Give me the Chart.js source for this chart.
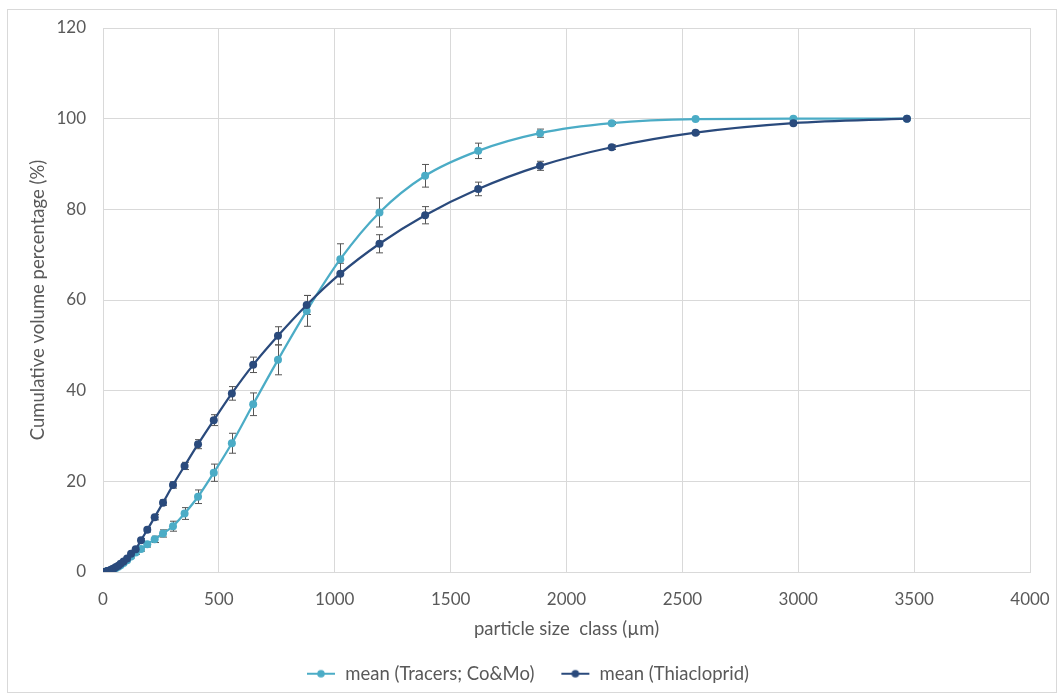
<!DOCTYPE html>
<html>
<head>
<meta charset="utf-8">
<script src="https://cdn.jsdelivr.net/npm/chart.js@4.4.1/dist/chart.umd.min.js"></script>
<style>
  html, body { margin: 0; padding: 0; background: #fff; }
  #wrap { position: relative; width: 1057px; height: 693px; }
</style>
</head>
<body>
<div id="wrap"><canvas id="psdChart" width="1057" height="693"></canvas></div>
<script>
// DATA

// particle size classes (µm)
const sizeClasses = [5, 6, 7, 8, 9, 10, 12, 14, 17, 19, 23, 26, 31, 36, 41, 48, 56, 66, 76, 89,
    104, 121, 141, 164, 191, 223, 259, 302, 352, 410, 478, 556, 648, 755, 879,
    1024, 1193, 1390, 1619, 1886, 2195, 2557, 2979, 3469];

// cumulative volume (%) - mean (Tracers; Co&Mo)
const tracersMean = [0, 0.005, 0.01, 0.015, 0.02, 0.03, 0.04, 0.06, 0.08, 0.11, 0.16, 0.22, 0.3, 0.4, 0.52, 0.7, 0.9, 1.15, 1.5, 2.0,
    2.6, 3.4, 4.3, 5.1, 6.1, 7.2, 8.5, 10.1, 12.9, 16.6, 21.9, 28.4, 37.0, 46.8, 57.6,
    69.0, 79.3, 87.4, 92.9, 96.8, 99.0, 99.9, 100, 100];
const tracersErr = [0, 0, 0, 0, 0, 0, 0, 0, 0, 0, 0, 0, 0, 0, 0, 0, 0, 0, 0.1, 0.1,
    0.2, 0.3, 0.4, 0.5, 0.6, 0.7, 0.8, 1.1, 1.3, 1.5, 1.9, 2.2, 2.5, 3.3, 3.4,
    3.4, 3.2, 2.5, 1.7, 0.9, 0.3, 0.1, 0.1, 0];

// cumulative volume (%) - mean (Thiacloprid)
const thiaMean = [0, 0.005, 0.01, 0.015, 0.02, 0.03, 0.05, 0.07, 0.1, 0.14, 0.2, 0.28, 0.38, 0.5, 0.65, 0.85, 1.1, 1.4, 1.8, 2.3,
    3.0, 4.0, 5.0, 7.0, 9.3, 12.1, 15.3, 19.2, 23.4, 28.2, 33.5, 39.4, 45.7, 52.1, 58.9,
    65.8, 72.4, 78.7, 84.5, 89.6, 93.7, 96.9, 99.0, 100];
const thiaErr = [0, 0, 0, 0, 0, 0, 0, 0, 0, 0, 0, 0, 0, 0, 0, 0, 0, 0, 0.1, 0.1,
    0.2, 0.3, 0.3, 0.4, 0.5, 0.6, 0.6, 0.7, 0.8, 1.0, 1.2, 1.5, 1.7, 2.0, 2.1,
    2.3, 2.0, 1.9, 1.5, 1.0, 0.5, 0.3, 0.2, 0];

const seriesNames = ["mean (Tracers; Co&Mo)", "mean (Thiacloprid)"];
const xTicks = [0, 500, 1000, 1500, 2000, 2500, 3000, 3500, 4000];
const yTicks = [0, 20, 40, 60, 80, 100, 120];

// STYLE

const lightBlue = "#4BACC6";
const darkBlue = "#2A4A7C";
const textGray = "#595959";
const gridGray = "#d9d9d9";
const fontFamily = "Lato, 'Open Sans', sans-serif";

function toPoints(xs, ys) {
    return xs.map((x, i) => ({ x: x, y: ys[i] }));
}

// legend marker: short line with a dot in the middle
function legendMarker(color) {
    const c = document.createElement("canvas");
    c.width = 30;
    c.height = 10;
    const g = c.getContext("2d");
    g.strokeStyle = color;
    g.lineWidth = 2;
    g.beginPath();
    g.moveTo(1, 5);
    g.lineTo(29, 5);
    g.stroke();
    g.fillStyle = color;
    g.beginPath();
    g.arc(15, 5, 3.8, 0, Math.PI * 2);
    g.fill();
    return c;
}

// error bars drawn through the chart's own scales
const errorBarPlugin = {
    id: "errorBars",
    beforeDatasetsDraw(chart) {
        const ctx = chart.ctx;
        const xs = chart.scales.x;
        const ys = chart.scales.y;
        ctx.save();
        ctx.strokeStyle = "#555555";
        ctx.lineWidth = 1;
        chart.data.datasets.forEach(ds => {
            if (!ds.errors) return;
            ds.data.forEach((p, i) => {
                const e = ds.errors[i];
                if (!e) return;
                const px = Math.round(xs.getPixelForValue(p.x)) + 0.5;
                const top = ys.getPixelForValue(p.y + e);
                const bot = ys.getPixelForValue(p.y - e);
                if (bot - top < 2) return;
                ctx.beginPath();
                ctx.moveTo(px, top);
                ctx.lineTo(px, bot);
                ctx.moveTo(px - 3.5, top);
                ctx.lineTo(px + 3.5, top);
                ctx.moveTo(px - 3.5, bot);
                ctx.lineTo(px + 3.5, bot);
                ctx.stroke();
            });
        });
        ctx.restore();
    }
};

// outer frame of the chart
const framePlugin = {
    id: "frame",
    beforeDraw(chart) {
        const ctx = chart.ctx;
        ctx.save();
        ctx.fillStyle = "#ffffff";
        ctx.fillRect(0, 0, chart.width, chart.height);
        ctx.strokeStyle = gridGray;
        ctx.lineWidth = 1;
        ctx.strokeRect(7.5, 9.5, chart.width - 8, chart.height - 10);
        ctx.restore();
    }
};

// CHART

const markers = [legendMarker(lightBlue), legendMarker(darkBlue)];

new Chart(document.getElementById("psdChart"), {
    type: "line",
    data: {
        datasets: [
            {
                label: seriesNames[0],
                data: toPoints(sizeClasses, tracersMean),
                errors: tracersErr,
                borderColor: lightBlue,
                backgroundColor: lightBlue,
                borderWidth: 2.25,
                pointRadius: 4,
                pointHoverRadius: 4,
                pointBorderWidth: 0,
                cubicInterpolationMode: "monotone",
                order: 1
            },
            {
                label: seriesNames[1],
                data: toPoints(sizeClasses, thiaMean),
                errors: thiaErr,
                borderColor: darkBlue,
                backgroundColor: darkBlue,
                borderWidth: 2.25,
                pointRadius: 4,
                pointHoverRadius: 4,
                pointBorderWidth: 0,
                cubicInterpolationMode: "monotone",
                order: 0
            }
        ]
    },
    options: {
        responsive: false,
        animation: false,
        layout: {
            padding: { left: 25, right: 27, top: 28, bottom: 0 }
        },
        scales: {
            x: {
                type: "linear",
                min: 0,
                max: 4000,
                afterBuildTicks: s => { s.ticks = xTicks.map(v => ({ value: v })); },
                afterFit: s => { s.height = 66.5; },
                grid: { color: gridGray, drawTicks: true, tickLength: 17.5, tickColor: "rgba(0,0,0,0)" },
                border: { color: gridGray },
                ticks: {
                    padding: 0,
                    color: textGray,
                    font: { family: fontFamily, size: 17 },
                    callback: v => String(v)
                },
                title: {
                    display: true,
                    text: "particle size  class (µm)",
                    color: textGray,
                    font: { family: fontFamily, size: 18.5, lineHeight: 1 },
                    padding: { top: 0, bottom: 0 }
                }
            },
            y: {
                min: 0,
                max: 120,
                afterBuildTicks: s => { s.ticks = yTicks.map(v => ({ value: v })); },
                afterFit: s => { s.width = 78; },
                grid: { color: gridGray, drawTicks: false },
                border: { color: gridGray },
                ticks: {
                    padding: 17,
                    color: textGray,
                    font: { family: fontFamily, size: 17 },
                    callback: v => String(v)
                },
                title: {
                    display: true,
                    text: "Cumulative volume percentage (%)",
                    color: textGray,
                    font: { family: fontFamily, size: 18.5, lineHeight: 1 },
                    padding: { top: 4, bottom: 4 }
                }
            }
        },
        plugins: {
            legend: {
                position: "bottom",
                labels: {
                    color: textGray,
                    font: { family: fontFamily, size: 18.5 },
                    usePointStyle: true,
                    pointStyleWidth: 30,
                    padding: 26,
                    generateLabels: chart => {
                        const items = Chart.defaults.plugins.legend.labels.generateLabels(chart);
                        items.sort((a, b) => a.datasetIndex - b.datasetIndex);
                        items.forEach(it => { it.pointStyle = markers[it.datasetIndex]; });
                        return items;
                    }
                }
            },
            tooltip: { enabled: false }
        }
    },
    plugins: [framePlugin, errorBarPlugin]
});
</script>
</body>
</html>
